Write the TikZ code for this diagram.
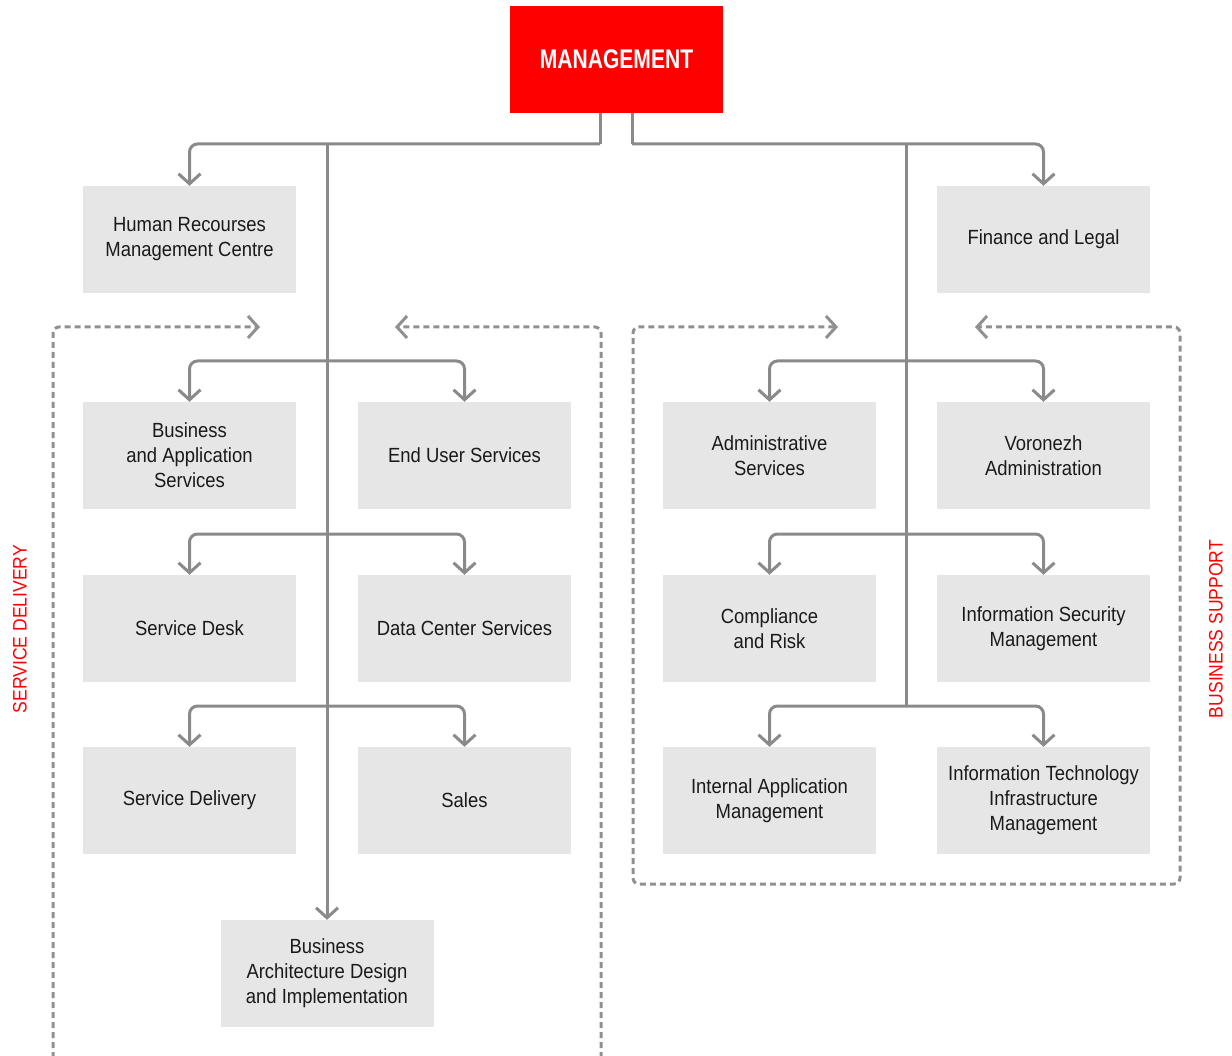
\documentclass[tikz,border=0pt]{standalone}
\usepackage{fontspec}
\setmainfont{Liberation Sans}[FakeStretch=0.9]
\newfontfamily\mgfont{Liberation Sans}[FakeStretch=0.78]
\usetikzlibrary{arrows.meta}
\definecolor{linegray}{HTML}{8A8A8A}
\definecolor{dashgray}{HTML}{909090}
\definecolor{boxgray}{HTML}{E6E6E6}
\definecolor{txt}{HTML}{1A1A1A}
\definecolor{mred}{HTML}{FF0000}
\begin{document}
\begin{tikzpicture}[x=1pt,y=-1pt,
 box/.style={fill=boxgray, minimum width=213pt, minimum height=107pt, inner sep=0pt, align=center, text=txt, font=\fontsize{20.5}{25}\selectfont},
 conn/.style={draw=linegray, line width=3pt, rounded corners=8pt},
 arr/.style={-{Straight Barb[length=10pt,width=22pt]}},
 grp/.style={draw=dashgray, line width=3pt, dash pattern=on 6pt off 4pt, rounded corners=6pt},
 side/.style={rotate=90, text=mred, inner sep=0pt, font=\fontsize{19.5}{22}\selectfont}]
\useasboundingbox (0,0) rectangle (1232,1056);

% nodes
\node[fill=mred, minimum width=213pt, minimum height=107pt, inner sep=0pt, text=white, font=\mgfont\bfseries\fontsize{27}{30}\selectfont] (mgmt) at (616.5,59.5) {MANAGEMENT};
\node[box] (hr)  at (189.5,239.5) {Human Recourses\\Management Centre};
\node[box] (fin) at (1043.5,239.5) {Finance and Legal};
\node[box] (bas) at (189.5,455.5) {Business\\and Application\\Services};
\node[box] (eus) at (464.5,455.5) {End User Services};
\node[box] (sdk) at (189.5,628.5) {Service Desk};
\node[box] (dcs) at (464.5,628.5) {Data Center Services};
\node[box] (sdl) at (189.5,800.5) {Service Delivery};
\node[box] (sal) at (464.5,800.5) {Sales};
\node[box] (bad) at (327,973.5) {Business\\Architecture Design\\and Implementation};
\node[box] (adm) at (769.5,455.5) {Administrative\\Services};
\node[box] (vor) at (1043.5,455.5) {Voronezh\\Administration};
\node[box] (cmp) at (769.5,628.5) {Compliance\\and Risk};
\node[box] (ism) at (1043.5,628.5) {Information Security\\Management};
\node[box] (iam) at (769.5,800.5) {Internal Application\\Management};
\node[box] (iti) at (1043.5,800.5) {Information Technology\\Infrastructure\\Management};
\node[side] (sdlab) at (20,629) {SERVICE DELIVERY};
\node[side] (bslab) at (1216,629) {BUSINESS SUPPORT};

% junction coordinates
\coordinate (jl) at (600,144);
\coordinate (jr) at (632,144);
\coordinate (tl) at (327,144);
\coordinate (tr) at (906,144);
\coordinate (tre) at (906,706);
\coordinate (lb1) at (327,361);
\coordinate (lb2) at (327,534);
\coordinate (lb3) at (327,706);
\coordinate (rb1) at (906,361);
\coordinate (rb2) at (906,534);
\coordinate (rb3) at (906,706);

% connectors
\draw[conn] (mgmt.south -| jl) -- (jl);
\draw[conn] (mgmt.south -| jr) -- (jr);
\draw[conn, arr] (jl) -| (hr.north);
\draw[conn, arr] (jr) -| (fin.north);
\draw[conn, arr] (tl) -- (bad.north);
\draw[conn] (tr) -- (tre);
\draw[conn, arr] (lb1) -| (bas.north);
\draw[conn, arr] (lb1) -| (eus.north);
\draw[conn, arr] (lb2) -| (sdk.north);
\draw[conn, arr] (lb2) -| (dcs.north);
\draw[conn, arr] (lb3) -| (sdl.north);
\draw[conn, arr] (lb3) -| (sal.north);
\draw[conn, arr] (rb1) -| (adm.north);
\draw[conn, arr] (rb1) -| (vor.north);
\draw[conn, arr] (rb2) -| (cmp.north);
\draw[conn, arr] (rb2) -| (ism.north);
\draw[conn, arr] (rb3) -| (iam.north);
\draw[conn, arr] (rb3) -| (iti.north);

% group borders
\coordinate (g1a) at (53,1058);
\coordinate (g1b) at (260,327);
\coordinate (g2a) at (601,1058);
\coordinate (g2b) at (395,327);
\coordinate (g3a) at (838,327);
\coordinate (g3b) at (975,327);
\draw[grp, arr] (g1a) |- (g1b);
\draw[grp, arr] (g2a) |- (g2b);
\draw[grp, {Straight Barb[length=10pt,width=22pt]}-{Straight Barb[length=10pt,width=22pt]}] (g3a) -- (633,327) -- (633,884) -- (1180,884) -- (1180,327) -- (g3b);
\end{tikzpicture}
\end{document}
